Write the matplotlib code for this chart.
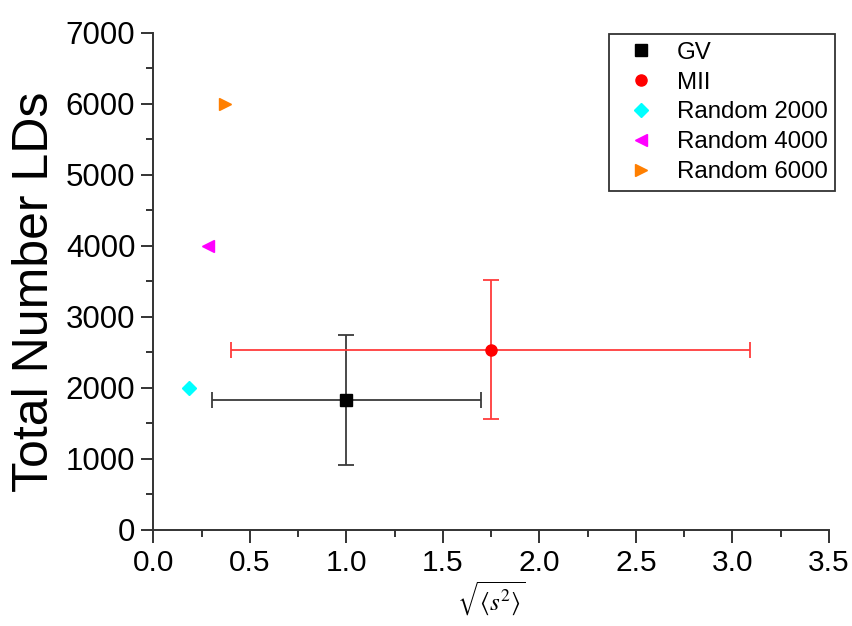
import matplotlib
matplotlib.use("Agg")
import matplotlib.pyplot as plt
from matplotlib.ticker import MultipleLocator, FormatStrFormatter

plt.rcParams['font.family'] = ['Liberation Sans', 'DejaVu Sans']
plt.rcParams['mathtext.fontset'] = 'stix'

# Data
labels = ["GV", "MII", "Random 2000", "Random 4000", "Random 6000"]
rms_s = [1.00, 1.747, 0.187, 0.282, 0.372]
total_lds = [1830, 2540, 2000, 4000, 6000]
rms_s_err = [0.695, 1.346, None, None, None]
total_lds_err = [917, 975, None, None, None]

colors = ["black", "red", "cyan", "magenta", "#ff7f00"]
err_colors = ["#3a3a3a", "#ff3b3b", None, None, None]
markers = ["s", "o", "D", "<", ">"]
sizes = [8, 8, 7, 8, 8]

fig = plt.figure(figsize=(8.52, 6.26), dpi=100)
ax = fig.add_axes([0.18, 0.1534, 0.793, 0.7939])

for i, lab in enumerate(labels):
    if rms_s_err[i] is not None:
        ax.errorbar(rms_s[i], total_lds[i], xerr=rms_s_err[i], yerr=total_lds_err[i],
                    fmt='none', ecolor=err_colors[i], elinewidth=1.3, capsize=6,
                    capthick=1.3, zorder=2)
    ax.plot(rms_s[i], total_lds[i], linestyle='none', marker=markers[i],
            markersize=sizes[i], color=colors[i], markeredgecolor=colors[i],
            label=lab, zorder=3)

ax.set_xlim(0, 3.5)
ax.set_ylim(0, 7000)
ax.xaxis.set_major_locator(MultipleLocator(0.5))
ax.xaxis.set_minor_locator(MultipleLocator(0.25))
ax.yaxis.set_major_locator(MultipleLocator(1000))
ax.yaxis.set_minor_locator(MultipleLocator(500))
ax.xaxis.set_major_formatter(FormatStrFormatter('%.1f'))

for side in ("top", "right"):
    ax.spines[side].set_visible(False)
for side in ("left", "bottom"):
    ax.spines[side].set_color("#333333")
    ax.spines[side].set_linewidth(1.4)

ax.tick_params(which='major', direction='out', length=9, width=1.4,
               color="#333333", pad=5)
ax.tick_params(which='minor', direction='out', length=5, width=1.4,
               color="#333333")
ax.tick_params(axis='x', which='major', labelsize=21.5)
ax.tick_params(axis='y', which='major', labelsize=22.5, pad=4)

ax.set_ylabel("Total Number LDs", fontsize=36)
ax.yaxis.set_label_coords(-0.141, 0.479)
ax.set_xlabel(r"$\sqrt{\left\langle s^2 \right\rangle}$", fontsize=18, labelpad=2)

leg = ax.legend(loc='upper right', bbox_to_anchor=(0.98, 0.945),
                bbox_transform=fig.transFigure, fontsize=17.3, frameon=True,
                fancybox=False, edgecolor='black', borderpad=0.3,
                labelspacing=0.33, handletextpad=0.44, handlelength=2.1,
                borderaxespad=0)
leg.get_frame().set_linewidth(1.3)

fig.savefig("out.png", dpi=100)
